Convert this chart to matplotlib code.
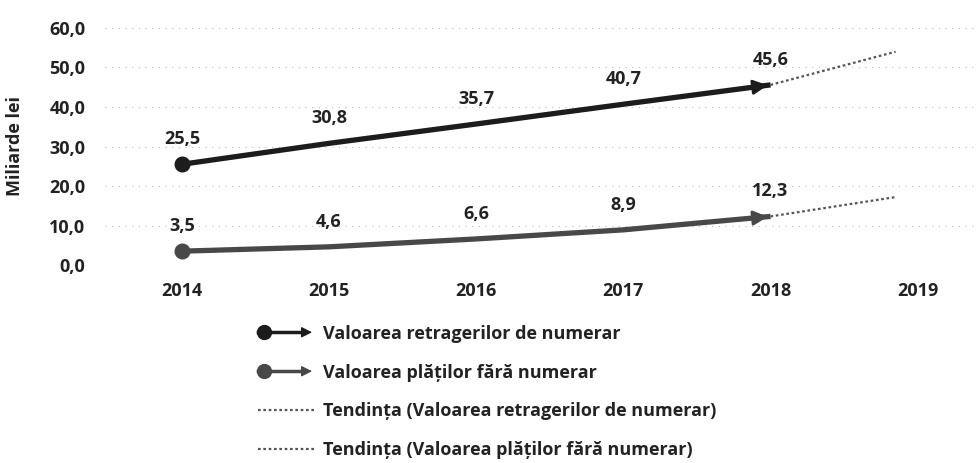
import matplotlib
matplotlib.use("Agg")
import matplotlib.pyplot as plt
from matplotlib.lines import Line2D
from matplotlib.patches import FancyArrowPatch
from matplotlib.legend_handler import HandlerBase
from matplotlib.ticker import FuncFormatter

plt.rcParams['font.family'] = ['Open Sans', 'DejaVu Sans']

# data
years = [2014, 2015, 2016, 2017, 2018]
retrageri = [25.5, 30.8, 35.7, 40.7, 45.6]
plati = [3.5, 4.6, 6.6, 8.9, 12.3]
trend_years = [2018, 2018.85]
trend_retrageri = [45.6, 54.0]
trend_plati = [12.3, 17.2]
xticks = [2014, 2015, 2016, 2017, 2018, 2019]
yticks = [0, 10, 20, 30, 40, 50, 60]

lbl_retr = "Valoarea retragerilor de numerar"
lbl_plati = "Valoarea plăților fără numerar"
lbl_tr_retr = "Tendința (Valoarea retragerilor de numerar)"
lbl_tr_plati = "Tendința (Valoarea plăților fără numerar)"

col_retr = '#1c1c1c'
col_plati = '#484848'
col_trend = '#555555'
fs = 13


def comma(v, pos=None):
    return ("%.1f" % v).replace('.', ',')


class ArrowLine(HandlerBase):
    # circle at start, thick line, arrow head at the end
    def create_artists(self, legend, orig, xd, yd, w, h, fontsize, trans):
        y = h / 2 - yd
        x0, x1 = -xd, -xd + w
        c = orig.get_color()
        ln = Line2D([x0, x1 - 8], [y, y], color=c, lw=2.5, transform=trans)
        mk = Line2D([x0 + 4], [y], marker='o', ms=10, color=c, transform=trans)
        ar = FancyArrowPatch((x1 - 14, y), (x1, y), arrowstyle='-|>',
                             mutation_scale=16, color=c, lw=1, transform=trans)
        return [ln, mk, ar]


fig = plt.figure(figsize=(9.8, 4.63), dpi=100)
ax = fig.add_axes([105 / 980, 1 - 265 / 463, 873 / 980, 237 / 463])

ax.plot(trend_years, trend_retrageri, color=col_trend, lw=1.6, ls=(0, (1.2, 1.2)), zorder=2)
ax.plot(trend_years, trend_plati, color=col_trend, lw=1.6, ls=(0, (1.2, 1.2)), zorder=2)

for vals, col in [(retrageri, col_retr), (plati, col_plati)]:
    ax.plot(years, vals, color=col, lw=3.8, solid_capstyle='butt', zorder=3)
    ax.plot(years[0], vals[0], 'o', ms=10.5, color=col, zorder=4)
    ax.add_patch(FancyArrowPatch((years[-2] + 0.75, vals[-2] + 0.75 * (vals[-1] - vals[-2])),
                                 (years[-1], vals[-1]), arrowstyle='-|>', mutation_scale=22,
                                 color=col, lw=2, zorder=4))
    for x, v in zip(years, vals):
        ax.annotate(comma(v), (x, v), xytext=(0, 18), textcoords='offset points',
                    ha='center', va='center', fontsize=fs, fontweight='bold', color='#222222')

ax.set_xlim(2014 - 0.523, 2019 + 0.41)
ax.set_ylim(0, 60)
ax.set_xticks(xticks)
ax.set_yticks(yticks)
ax.yaxis.set_major_formatter(FuncFormatter(comma))
ax.tick_params(length=0, labelsize=fs, colors='#222222')
ax.tick_params(axis='y', pad=14)
ax.tick_params(axis='x', pad=12)
for t in ax.get_xticklabels() + ax.get_yticklabels():
    t.set_fontweight('bold')
ax.grid(axis='y', color='#bbbbbb', lw=0.8, ls=(0, (1, 5)))
ax.set_axisbelow(True)
for s in ax.spines.values():
    s.set_visible(False)
ax.set_ylabel("Miliarde lei", fontsize=fs, fontweight='bold', color='#222222')
ax.yaxis.set_label_coords(-0.093, 0.5)

h1 = Line2D([], [], color=col_retr)
h2 = Line2D([], [], color=col_plati)
h3 = Line2D([], [], color=col_trend, lw=1.6, ls=(0, (1.2, 1.2)))
h4 = Line2D([], [], color=col_trend, lw=1.6, ls=(0, (1.2, 1.2)))
fig.legend([h1, h2, h3, h4], [lbl_retr, lbl_plati, lbl_tr_retr, lbl_tr_plati],
           handler_map={h1: ArrowLine(), h2: ArrowLine()},
           loc='center left', bbox_to_anchor=(258 / 980, 1 - 392 / 463),
           frameon=False, borderpad=0, borderaxespad=0, handlelength=3.15,
           handletextpad=0.45, labelspacing=1.16,
           prop={'size': fs, 'weight': 'bold'}, labelcolor='#222222')

fig.savefig("out.png", dpi=100)
